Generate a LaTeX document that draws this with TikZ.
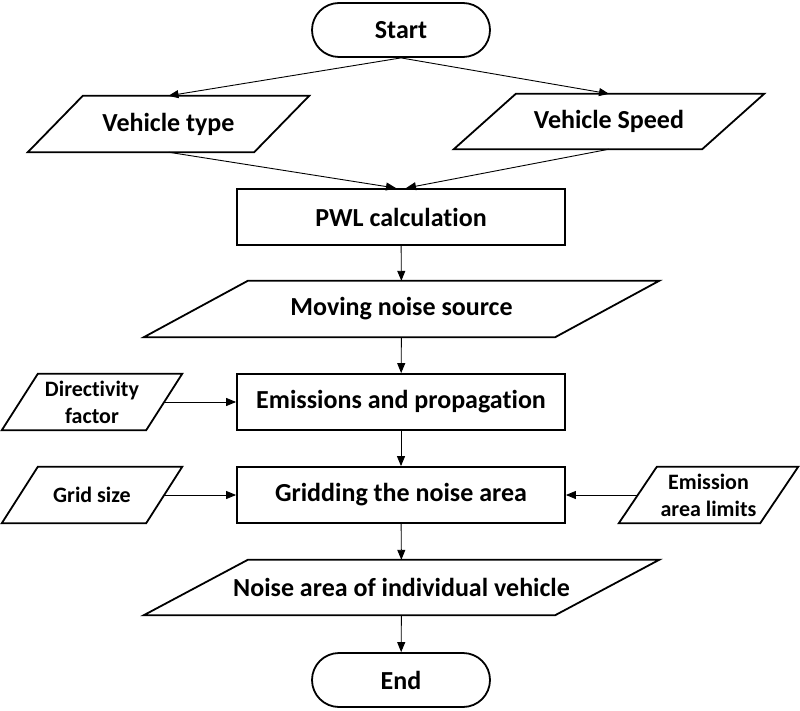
\documentclass[tikz,border=0pt]{standalone}
\usepackage{fontspec}
\setmainfont{Carlito}[Ligatures={NoCommon}]
\usetikzlibrary{arrows.meta}
\begin{document}
\begin{tikzpicture}[x=1pt,y=-1pt,
  base/.style={inner sep=0pt, align=center, font=\bfseries\fontsize{26}{30}\selectfont},
  small/.style={font=\bfseries\fontsize{22}{27}\selectfont},
  term/.style={base, draw, line width=1.8pt, rounded corners=27pt, minimum width=178pt, minimum height=54pt},
  proc/.style={base, draw, line width=1.8pt, minimum width=328pt, minimum height=56pt},
  io/.style={base, minimum height=56pt},
  shapeline/.style={line width=1.8pt, line join=miter},
  conn/.style={line width=0.9pt, -{Triangle[length=10pt,width=8pt]}}]
\useasboundingbox (0,0) rectangle (800,711);

% terminals and processes
\node[term] (start) at (401,30) {Start};
\node[proc] (pwl) at (401,217) {PWL calculation};
\node[proc] (ep) at (401,402) {Emissions and propagation};
\node[proc] (gn) at (401,495) {Gridding the noise area};
\node[term] (end) at (401,680) {End};

% input/output parallelograms (box nodes + outline)
\node[io, minimum width=281pt] (vt) at (168.5,124) {Vehicle type};
\node[io, minimum width=310pt, minimum height=55pt] (vs) at (609,121.5) {Vehicle Speed};
\node[io, minimum width=515pt] (mns) at (401.5,309) {Moving noise source};
\node[io, small, minimum width=180pt] (df) at (92,402) {Directivity\\factor};
\node[io, small, minimum width=180pt] (gs) at (92,495) {Grid size};
\node[io, small, minimum width=179pt] (eal) at (708.5,495) {Emission\\area limits};
\node[io, minimum width=515pt, minimum height=55pt] (nai) at (401.5,587.5) {Noise area of individual vehicle};

\foreach \n/\s in {vt/55, vs/62, mns/104, df/36, gs/36, eal/38, nai/104}{
  \draw[shapeline] (\n.south west) -- ([xshift=\s pt]\n.north west) -- (\n.north east)
    -- ([xshift=-\s pt]\n.south east) -- cycle;
}

% connectors
\draw[conn] (start.south) -- (vt.north);
\draw[conn] (start.south) -- (vs.north);
\draw[conn] (vt.south) -- ([xshift=-5pt]pwl.north);
\draw[conn] (vs.south) -- ([xshift=5pt]pwl.north);
\draw[conn] (pwl) -- (mns);
\draw[conn] (mns) -- (ep);
\draw[conn] ([xshift=-18pt]df.east) -- (ep.west);
\draw[conn] (ep) -- (gn);
\draw[conn] ([xshift=-18pt]gs.east) -- (gn.west);
\draw[conn] ([xshift=19pt]eal.west) -- (gn.east);
\draw[conn] (gn) -- (nai);
\draw[conn] (nai) -- (end);
\end{tikzpicture}
\end{document}
